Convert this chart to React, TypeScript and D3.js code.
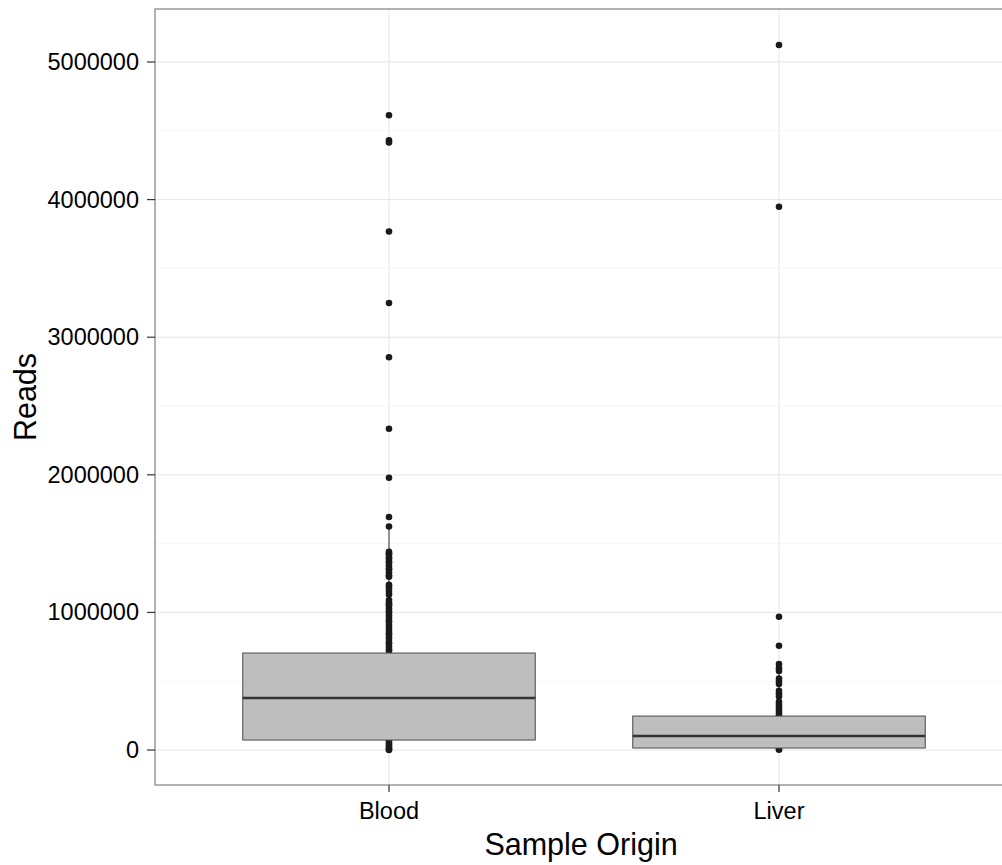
import React from "react";
import * as d3 from "d3";

const categories = ["Blood", "Liver"];
const q1Values = [72700, 14500];
const medianValues = [378000, 102000];
const q3Values = [705000, 247000];
const whiskerLowValues = [0, 0];
const whiskerHighValues = [1625000, 590000];

const bloodPoints = [
  4613000, 4430000, 4415000, 3768000, 3249000, 2854000, 2335000, 1979000, 1693000, 1625000,
  1440000, 1430000, 1420000, 1400000, 1390000, 1370000, 1360000, 1340000, 1320000, 1310000,
  1290000, 1270000, 1260000, 1200000, 1190000, 1170000, 1150000, 1130000, 1090000, 1070000,
  1060000, 1050000, 1030000, 1010000, 1000000, 980000, 960000, 940000, 930000, 910000, 890000,
  870000, 850000, 840000, 820000, 800000, 780000, 770000, 750000, 730000, 720000,
  70000, 55000, 40000, 28000, 15000, 5000, 1000,
];
const liverPoints = [
  5123000, 3948000, 969000, 758000, 625000, 595000, 575000, 520000, 500000, 480000, 430000,
  410000, 390000, 350000, 330000, 310000, 290000, 270000, 255000, 8000, 2000,
];
const pointSets = [bloodPoints, liverPoints];

const yTicks = [0, 1000000, 2000000, 3000000, 4000000, 5000000];
const yMinorTicks = [500000, 1500000, 2500000, 3500000, 4500000];

const W = 1002;
const H = 865;
const panel = { left: 155, right: 1013, top: 9, bottom: 785 };

export default function App() {
  const x = d3
    .scalePoint<string>()
    .domain(categories)
    .range([panel.left, panel.right])
    .padding(0.6);
  const y = d3.scaleLinear().domain([-254000, 5385000]).range([panel.bottom, panel.top]);
  const boxW = x.step() * 0.75;
  const font = "'Liberation Sans', Arial, sans-serif";

  return (
    <svg
      width={W}
      height={H}
      style={{ position: "absolute", left: 0, top: 0, background: "#fff" }}
    >
      <defs>
        <clipPath id="pc">
          <rect
            x={panel.left}
            y={panel.top}
            width={panel.right - panel.left}
            height={panel.bottom - panel.top}
          />
        </clipPath>
      </defs>
      <rect x={0} y={0} width={W} height={H} fill="#fff" />
      <g clipPath="url(#pc)">
        {yMinorTicks.map((t) => (
          <line
            key={"m" + t}
            x1={panel.left}
            x2={panel.right}
            y1={y(t)}
            y2={y(t)}
            stroke="#f7f7f7"
            strokeWidth={1}
          />
        ))}
        {yTicks.map((t) => (
          <line
            key={"g" + t}
            x1={panel.left}
            x2={panel.right}
            y1={y(t)}
            y2={y(t)}
            stroke="#e5e5e5"
            strokeWidth={1}
          />
        ))}
        {categories.map((c) => (
          <line
            key={"v" + c}
            x1={x(c)}
            x2={x(c)}
            y1={panel.top}
            y2={panel.bottom}
            stroke="#e5e5e5"
            strokeWidth={1}
          />
        ))}
        {categories.map((c, i) => {
          const cx = x(c) as number;
          return (
            <g key={"w" + c}>
              <line x1={cx} x2={cx} y1={y(q3Values[i])} y2={y(whiskerHighValues[i])} stroke="#333" strokeWidth={1} />
              <line x1={cx} x2={cx} y1={y(q1Values[i])} y2={y(whiskerLowValues[i])} stroke="#333" strokeWidth={1} />
            </g>
          );
        })}
        {categories.map((c, i) => (
          <g key={"p" + c}>
            {pointSets[i].map((v, j) => (
              <circle key={j} cx={x(c)} cy={y(v)} r={3.3} fill="#1a1a1a" />
            ))}
          </g>
        ))}
        {categories.map((c, i) => {
          const cx = x(c) as number;
          return (
            <g key={"b" + c}>
              <rect
                x={cx - boxW / 2}
                y={y(q3Values[i])}
                width={boxW}
                height={y(q1Values[i]) - y(q3Values[i])}
                fill="#bebebe"
                stroke="#4a4a4a"
                strokeWidth={1}
              />
              <line
                x1={cx - boxW / 2}
                x2={cx + boxW / 2}
                y1={y(medianValues[i])}
                y2={y(medianValues[i])}
                stroke="#333"
                strokeWidth={2.4}
              />
            </g>
          );
        })}
      </g>
      <rect
        x={panel.left}
        y={panel.top}
        width={panel.right - panel.left}
        height={panel.bottom - panel.top}
        fill="none"
        stroke="#7f7f7f"
        strokeWidth={1.2}
      />
      {yTicks.map((t) => (
        <g key={"yt" + t}>
          <line x1={panel.left - 8} x2={panel.left} y1={y(t)} y2={y(t)} stroke="#333" strokeWidth={1.2} />
          <text
            x={panel.left - 16}
            y={y(t)}
            textAnchor="end"
            dominantBaseline="central"
            fontFamily={font}
            fontSize={23.5}
            fill="#000"
          >
            {String(t)}
          </text>
        </g>
      ))}
      {categories.map((c) => (
        <g key={"xt" + c}>
          <line x1={x(c)} x2={x(c)} y1={panel.bottom} y2={panel.bottom + 7} stroke="#333" strokeWidth={1.2} />
          <text
            x={x(c)}
            y={panel.bottom + 26}
            textAnchor="middle"
            dominantBaseline="central"
            fontFamily={font}
            fontSize={23.5}
            fill="#000"
          >
            {c}
          </text>
        </g>
      ))}
      <text
        x={(155 + 1013) / 2 - 3}
        y={855}
        textAnchor="middle"
        fontFamily={font}
        fontSize={30.5}
        fill="#000"
      >
        Sample Origin
      </text>
      <text
        transform={`translate(36, ${(panel.top + panel.bottom) / 2}) rotate(-90)`}
        textAnchor="middle"
        fontFamily={font}
        fontSize={30.5}
        fill="#000"
      >
        Reads
      </text>
    </svg>
  );
}
